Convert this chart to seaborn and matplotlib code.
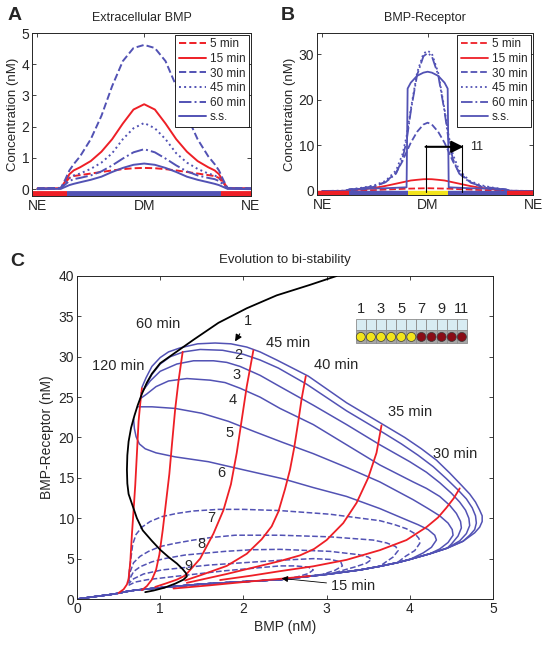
import matplotlib
matplotlib.use("Agg")
import matplotlib.pyplot as plt
from matplotlib.patches import Rectangle
import seaborn as sns

sns.set_style("ticks")
plt.rcParams["font.family"] = ["Liberation Sans", "DejaVu Sans"]

BLUE = "#5252b4"
RED = "#ee1f26"
YELLOW = "#f2e41c"

# ---------------- panel A : extracellular BMP profile
xA = [0.0, 0.11, 0.13, 0.15, 0.17, 0.20, 0.25, 0.30, 0.35, 0.40, 0.45, 0.50,
      0.55, 0.60, 0.65, 0.70, 0.75, 0.80, 0.83, 0.85, 0.87, 0.89, 1.0]
a_5 = [0.02, 0.03, 0.20, 0.36, 0.42, 0.45, 0.50, 0.55, 0.60, 0.64, 0.67, 0.68,
       0.67, 0.64, 0.60, 0.55, 0.50, 0.45, 0.42, 0.36, 0.20, 0.03, 0.02]
a_15 = [0.02, 0.03, 0.25, 0.48, 0.60, 0.70, 0.90, 1.20, 1.60, 2.10, 2.55, 2.72,
        2.55, 2.10, 1.60, 1.20, 0.90, 0.70, 0.60, 0.48, 0.25, 0.03, 0.02]
a_30 = [0.03, 0.04, 0.30, 0.60, 0.80, 1.05, 1.60, 2.35, 3.30, 4.10, 4.52, 4.62,
        4.52, 4.10, 3.30, 2.35, 1.60, 1.05, 0.80, 0.60, 0.30, 0.04, 0.03]
a_45 = [0.02, 0.03, 0.20, 0.36, 0.44, 0.50, 0.65, 0.85, 1.15, 1.60, 1.95, 2.12,
        1.95, 1.60, 1.15, 0.85, 0.65, 0.50, 0.44, 0.36, 0.20, 0.03, 0.02]
a_60 = [0.02, 0.03, 0.15, 0.26, 0.32, 0.36, 0.44, 0.57, 0.76, 0.98, 1.18, 1.28,
        1.18, 0.98, 0.76, 0.57, 0.44, 0.36, 0.32, 0.26, 0.15, 0.03, 0.02]
a_ss = [0.00, 0.01, 0.07, 0.13, 0.17, 0.22, 0.30, 0.40, 0.55, 0.68, 0.78, 0.82,
        0.78, 0.68, 0.55, 0.40, 0.30, 0.22, 0.17, 0.13, 0.07, 0.01, 0.00]

# ---------------- panel B : BMP-receptor profile
xB = [0.0, 0.11, 0.13, 0.20, 0.25, 0.30, 0.35, 0.38, 0.40, 0.42, 0.45, 0.48, 0.50,
      0.52, 0.55, 0.58, 0.60, 0.62, 0.65, 0.70, 0.75, 0.80, 0.87, 0.89, 1.0]
b_5 = [0.0, 0.0, 0.05, 0.15, 0.2, 0.3, 0.4, 0.45, 0.5, 0.52, 0.55, 0.58, 0.6,
       0.58, 0.55, 0.52, 0.5, 0.45, 0.4, 0.3, 0.2, 0.15, 0.05, 0.0, 0.0]
b_15 = [0.0, 0.02, 0.1, 0.4, 0.7, 1.1, 1.6, 1.9, 2.1, 2.3, 2.45, 2.58, 2.6,
        2.58, 2.45, 2.3, 2.1, 1.9, 1.6, 1.1, 0.7, 0.4, 0.1, 0.02, 0.0]
b_30 = [0.0, 0.02, 0.15, 0.4, 1.0, 2.0, 4.0, 6.5, 8.6, 10.6, 13.0, 14.6, 15.0,
        14.6, 13.0, 10.6, 8.6, 6.5, 4.0, 2.0, 1.0, 0.4, 0.15, 0.02, 0.0]
b_45 = [0.0, 0.05, 0.3, 0.8, 1.3, 2.2, 4.5, 8.0, 12.0, 18.0, 26.0, 30.2, 30.8,
        30.2, 26.0, 18.0, 12.0, 8.0, 4.5, 2.2, 1.3, 0.8, 0.3, 0.05, 0.0]
b_60 = [0.0, 0.05, 0.3, 0.7, 1.1, 1.9, 3.8, 7.0, 11.0, 17.5, 25.5, 29.6, 30.3,
        29.6, 25.5, 17.5, 11.0, 7.0, 3.8, 1.9, 1.1, 0.7, 0.3, 0.05, 0.0]
xBss = [0.0, 0.11, 0.13, 0.20, 0.30, 0.40, 0.405, 0.42, 0.45, 0.48, 0.50, 0.52,
        0.55, 0.58, 0.595, 0.60, 0.70, 0.80, 0.87, 0.89, 1.0]
b_ss = [0.0, 0.0, 0.4, 0.5, 0.6, 0.8, 22.5, 23.8, 25.3, 26.0, 26.2, 26.0,
        25.3, 23.8, 22.5, 0.8, 0.6, 0.5, 0.4, 0.0, 0.0]

# tissue bars under the profiles (start, end, colour)
barA = [(-0.025, 0.14, RED), (0.14, 0.86, BLUE), (0.86, 1.0, RED)]
barB = [(-0.025, 0.125, RED), (0.125, 0.405, BLUE), (0.405, 0.595, YELLOW),
        (0.595, 0.875, BLUE), (0.875, 1.0, RED)]

# ---------------- panel C : phase plane trajectories
# common outgoing (lower) branch
lo_x = [0.0, 0.2, 0.4, 0.5, 0.58, 0.7, 1.0, 1.5, 2.0, 2.44, 3.04, 3.4, 3.64, 3.85,
        4.0, 4.24, 4.45, 4.64, 4.78]
lo_y = [0.0, 0.28, 0.55, 0.72, 0.9, 1.1, 1.4, 1.85, 2.15, 2.4, 3.1, 3.6, 4.05, 4.5,
        4.9, 5.6, 6.3, 7.15, 8.2]

# returning part of each cell trajectory (cells 1-6 solid, 7-11 dashed)
c1_x = [4.84, 4.87, 4.87, 4.84, 4.79, 4.72, 4.62, 4.48, 4.32, 4.14, 3.94, 3.68, 3.24,
        2.78, 2.40, 2.20, 2.04, 1.85, 1.66, 1.45, 1.24, 1.10, 1.00, 0.90, 0.83, 0.78]
c1_y = [8.9, 9.6, 10.3, 11.0, 12.0, 13.0, 14.1, 15.6, 17.2, 18.6, 20.0, 21.6, 24.3,
        27.6, 29.6, 30.6, 31.2, 31.6, 31.7, 31.6, 31.1, 30.6, 29.9, 28.8, 27.4, 26.2]
c2_x = [4.72, 4.78, 4.80, 4.79, 4.75, 4.68, 4.58, 4.44, 4.28, 4.10, 3.90, 3.68, 3.24,
        2.76, 2.42, 2.20, 2.00, 1.75, 1.48, 1.28, 1.12, 1.00, 0.90, 0.80]
c2_y = [7.9, 8.6, 9.4, 10.3, 11.3, 12.4, 13.5, 14.9, 16.4, 17.8, 19.2, 20.6, 23.3,
        26.6, 28.6, 29.6, 30.3, 30.8, 30.9, 30.6, 30.0, 29.1, 27.8, 25.9]
c3_x = [4.60, 4.68, 4.72, 4.71, 4.67, 4.60, 4.50, 4.36, 4.20, 4.00, 3.64, 3.24, 2.84,
        2.44, 2.20, 1.96, 1.80, 1.64, 1.40, 1.20, 1.00, 0.88, 0.77]
c3_y = [7.2, 8.1, 9.1, 10.0, 11.0, 12.0, 13.1, 14.4, 15.7, 17.0, 19.1, 21.6, 24.0,
        26.3, 27.7, 28.8, 29.3, 29.5, 29.5, 29.1, 28.2, 27.0, 25.5]
c4_x = [4.50, 4.58, 4.62, 4.61, 4.56, 4.48, 4.36, 4.20, 4.04, 3.64, 3.24, 2.84, 2.44,
        2.20, 1.96, 1.78, 1.60, 1.32, 1.10, 0.95, 0.84, 0.76]
c4_y = [6.8, 7.8, 8.8, 9.6, 10.6, 11.6, 12.7, 13.7, 14.5, 16.6, 19.1, 21.6, 23.6,
        25.0, 26.1, 26.8, 27.1, 27.3, 27.0, 26.3, 25.4, 24.8]
c5_x = [4.36, 4.46, 4.52, 4.51, 4.46, 4.36, 4.22, 4.04, 3.64, 3.24, 2.84, 2.47, 2.14,
        1.82, 1.50, 1.18, 0.90, 0.74]
c5_y = [6.2, 7.0, 7.9, 8.6, 9.4, 10.3, 11.2, 12.3, 14.5, 16.3, 18.0, 19.4, 20.7,
        22.0, 23.0, 23.6, 23.8, 23.8]
c6_x = [4.16, 4.26, 4.32, 4.30, 4.22, 4.10, 3.96, 3.64, 3.24, 2.84, 2.47, 2.00, 1.58,
        1.18, 0.95, 0.82, 0.75, 0.71, 0.69, 0.68]
c6_y = [5.7, 6.4, 7.3, 7.9, 8.6, 9.2, 9.8, 11.2, 12.7, 13.8, 14.9, 16.0, 17.0,
        17.6, 18.1, 18.6, 19.2, 20.1, 21.1, 22.3]
c7_x = [3.95, 4.06, 4.12, 4.11, 4.06, 3.96, 3.82, 3.64, 3.04, 2.44, 2.00, 1.70, 1.40,
        1.20, 1.02, 0.88, 0.78, 0.71, 0.67, 0.65, 0.63, 0.62]
c7_y = [5.3, 6.0, 6.9, 7.5, 8.1, 8.7, 9.2, 9.7, 10.5, 10.95, 11.1, 11.1, 10.9,
        10.6, 10.2, 9.6, 8.9, 8.0, 6.8, 5.2, 3.6, 2.4]
c8_x = [3.70, 3.80, 3.86, 3.83, 3.72, 3.56, 3.04, 2.44, 1.90, 1.60, 1.40, 1.18, 1.00,
        0.86, 0.76, 0.68, 0.64, 0.62]
c8_y = [4.5, 5.2, 6.0, 6.5, 6.95, 7.3, 7.7, 7.9, 7.9, 7.6, 7.3, 6.9, 6.5,
        5.9, 5.3, 4.5, 3.4, 2.2]
c9_x = [3.35, 3.48, 3.54, 3.50, 3.38, 3.04, 2.44, 2.10, 1.78, 1.30, 1.05, 0.90, 0.76,
        0.68, 0.64, 0.62]
c9_y = [4.0, 4.45, 4.9, 5.2, 5.5, 5.9, 6.15, 6.1, 5.9, 5.45, 5.0, 4.6, 4.0,
        3.4, 2.6, 2.0]
c10_x = [2.95, 3.10, 3.19, 3.17, 3.05, 2.84, 2.44, 1.58, 1.02, 0.80, 0.68, 0.62]
c10_y = [3.05, 3.55, 4.1, 4.6, 4.9, 5.0, 4.8, 4.2, 3.6, 3.1, 2.5, 1.9]
c11_x = [2.65, 2.78, 2.84, 2.78, 2.62, 2.44, 1.78, 1.18, 0.85, 0.70, 0.62]
c11_y = [2.75, 3.15, 3.6, 3.95, 4.1, 4.1, 3.5, 2.8, 2.4, 2.1, 1.7]

# isochrones (red)
iso15_x = [1.16, 1.60, 2.00, 2.44, 2.80]
iso15_y = [1.3, 1.7, 2.1, 2.5, 2.85]
iso30_x = [1.72, 2.10, 2.44, 2.84, 3.24, 3.64, 3.96, 4.20, 4.34, 4.44, 4.53, 4.60]
iso30_y = [2.35, 2.9, 3.45, 4.05, 4.85, 6.05, 7.3, 8.9, 10.1, 11.3, 12.5, 13.7]
iso35_x = [1.32, 1.80, 2.20, 2.44, 2.68, 2.85, 3.00, 3.20, 3.36, 3.50, 3.60, 3.66]
iso35_y = [2.0, 3.1, 4.1, 4.7, 5.4, 6.2, 7.3, 9.4, 11.9, 15.0, 18.1, 21.5]
iso40_x = [1.30, 1.50, 1.80, 2.04, 2.22, 2.34, 2.42, 2.50, 2.56, 2.61, 2.66, 2.70, 2.75]
iso40_y = [2.3, 3.0, 4.1, 5.6, 7.4, 9.0, 10.8, 13.6, 16.0, 18.7, 22.0, 24.8, 27.6]
iso45_x = [0.94, 1.06, 1.20, 1.30, 1.48, 1.64, 1.76, 1.85, 1.92, 1.98, 2.04, 2.12]
iso45_y = [1.5, 1.9, 2.4, 2.9, 5.0, 8.1, 11.0, 14.2, 18.1, 22.2, 26.3, 30.8]
iso60_x = [0.78, 0.84, 0.90, 0.95, 0.99, 1.03, 1.07, 1.11, 1.14, 1.18, 1.22, 1.27]
iso60_y = [1.1, 1.6, 2.4, 3.6, 5.5, 8.5, 12.0, 15.5, 19.0, 23.5, 27.0, 30.6]
iso120_x = [0.50, 0.56, 0.60, 0.62, 0.64, 0.66, 0.68, 0.70, 0.72, 0.74, 0.76, 0.78]
iso120_y = [0.75, 1.2, 1.8, 2.5, 4.5, 8.0, 11.0, 14.1, 18.0, 22.0, 24.2, 26.1]

# nullcline (black)
nc_x = [3.12, 2.80, 2.40, 2.04, 1.70, 1.40, 1.18, 1.00, 0.90, 0.84, 0.78, 0.73, 0.69,
        0.65, 0.62, 0.605, 0.60, 0.605, 0.62, 0.66, 0.72, 0.79, 0.90, 1.00, 1.10,
        1.20, 1.27, 1.31, 1.32, 1.28, 1.18, 1.05, 0.92, 0.82]
nc_y = [40.0, 38.9, 37.6, 36.0, 34.2, 32.1, 30.5, 29.2, 27.9, 26.8, 25.4, 24.0, 22.7,
        21.2, 19.5, 17.8, 16.0, 14.3, 13.0, 11.8, 10.0, 8.5, 7.2, 6.1, 5.2,
        4.4, 3.7, 3.2, 2.8, 2.4, 1.9, 1.4, 1.05, 0.85]

cell_numbers = ["1", "3", "5", "7", "9", "11"]
cell_fate = [YELLOW] * 6 + ["#8a0c16"] * 5

fig = plt.figure(figsize=(5.52, 6.48), dpi=100)
axA = fig.add_axes([0.058, 0.6975, 0.3967, 0.2515])
axB = fig.add_axes([0.5743, 0.699, 0.3913, 0.25])
axC = fig.add_axes([0.1395, 0.0756, 0.7536, 0.4985])


def curve(ax, x, y, **kw):
    sns.lineplot(x=x, y=y, ax=ax, sort=False, estimator=None, **kw)


def style(ax):
    for s in ax.spines.values():
        s.set_linewidth(0.7)
    ax.tick_params(direction="in", top=True, right=True, length=3, width=0.6,
                   labelsize=10, pad=2)


# ---- A
curve(axA, xA, a_5, color=RED, lw=1.4, linestyle="--", label="5 min")
curve(axA, xA, a_15, color=RED, lw=1.4, label="15 min")
curve(axA, xA, a_30, color=BLUE, lw=1.4, linestyle="--", label="30 min")
curve(axA, xA, a_45, color=BLUE, lw=1.4, linestyle=":", label="45 min")
curve(axA, xA, a_60, color=BLUE, lw=1.4, linestyle="-.", label="60 min")
curve(axA, xA, a_ss, color=BLUE, lw=1.4, label="s.s.")
for x0, x1, c in barA:
    axA.plot([x0, x1], [-0.14, -0.14], color=c, lw=4.2, solid_capstyle="butt")
axA.set_xlim(-0.025, 1.0)
axA.set_ylim(-0.22, 5)
axA.set_yticks([0, 1, 2, 3, 4, 5])
axA.set_xticks([0, 0.5, 1])
axA.set_xticklabels(["NE", "DM", "NE"])
axA.set_ylabel("Concentration (nM)", fontsize=9.5, labelpad=2)
axA.set_title("Extracellular BMP", fontsize=9, pad=9)

# ---- B
curve(axB, xB, b_5, color=RED, lw=1.3, linestyle="--", label="5 min")
curve(axB, xB, b_15, color=RED, lw=1.3, label="15 min")
curve(axB, xB, b_30, color=BLUE, lw=1.3, linestyle="--", label="30 min")
curve(axB, xB, b_45, color=BLUE, lw=1.3, linestyle=":", label="45 min")
curve(axB, xB, b_60, color=BLUE, lw=1.3, linestyle="-.", label="60 min")
curve(axB, xBss, b_ss, color=BLUE, lw=1.3, label="s.s.")
for x0, x1, c in barB:
    axB.plot([x0, x1], [-0.45, -0.45], color=c, lw=3.2, solid_capstyle="butt")
axB.plot([0.49, 0.49], [-0.3, 10.0], color="k", lw=0.8)
axB.plot([0.665, 0.665], [-0.3, 10.0], color="k", lw=0.8)
axB.annotate("", xy=(0.67, 9.7), xytext=(0.49, 9.7),
             arrowprops=dict(arrowstyle="-|>", color="k", lw=1.5, mutation_scale=18,
                             shrinkA=0, shrinkB=0))
axB.text(0.70, 9.7, "11", fontsize=9, va="center", ha="left")
axB.set_xlim(-0.025, 1.0)
axB.set_ylim(-0.9, 34.7)
axB.set_yticks([0, 10, 20, 30])
axB.set_xticks([0, 0.5, 1])
axB.set_xticklabels(["NE", "DM", "NE"])
axB.set_ylabel("Concentration (nM)", fontsize=9.5, labelpad=2)
axB.set_title("BMP-Receptor", fontsize=9, pad=9)

for ax in (axA, axB):
    style(ax)
    leg = ax.legend(loc="upper right", fontsize=8.5, handlelength=2.3, handletextpad=0.35,
                    labelspacing=0.22, borderpad=0.3, borderaxespad=0.15,
                    fancybox=False, framealpha=1, edgecolor="k")
    leg.get_frame().set_linewidth(0.6)

# ---- C
trajs = [(c1_x, c1_y, "-"), (c2_x, c2_y, "-"), (c3_x, c3_y, "-"), (c4_x, c4_y, "-"),
         (c5_x, c5_y, "-"), (c6_x, c6_y, "-"), (c7_x, c7_y, "--"), (c8_x, c8_y, "--"),
         (c9_x, c9_y, "--"), (c10_x, c10_y, "--"), (c11_x, c11_y, "--")]
for cx, cy, ls in trajs:
    keep = [i for i, v in enumerate(lo_x) if v < cx[0]]
    xs = [lo_x[i] for i in keep] + cx
    ys = [lo_y[i] for i in keep] + cy
    curve(axC, xs, ys, color=BLUE, lw=1.1, linestyle=ls, zorder=2)

for ix, iy in [(iso15_x, iso15_y), (iso30_x, iso30_y), (iso35_x, iso35_y),
               (iso40_x, iso40_y), (iso45_x, iso45_y), (iso60_x, iso60_y),
               (iso120_x, iso120_y)]:
    curve(axC, ix, iy, color=RED, lw=1.3, zorder=3)
curve(axC, nc_x, nc_y, color="k", lw=1.3, zorder=4)

txt = dict(fontsize=10.5, ha="center", va="center")
axC.text(0.97, 34.0, "60 min", **txt)
axC.text(0.49, 28.9, "120 min", **txt)
axC.text(2.54, 31.7, "45 min", **txt)
axC.text(3.12, 29.0, "40 min", **txt)
axC.text(4.00, 23.1, "35 min", **txt)
axC.text(4.55, 18.0, "30 min", **txt)
axC.annotate("15 min", xy=(2.46, 2.55), xytext=(3.32, 1.66), fontsize=10.5,
             ha="center", va="center",
             arrowprops=dict(arrowstyle="-|>", color="k", lw=0.6, mutation_scale=9,
                             shrinkA=1, shrinkB=0))
axC.annotate("1", xy=(1.90, 31.9), xytext=(2.05, 34.4), fontsize=10.5,
             ha="center", va="center",
             arrowprops=dict(arrowstyle="-|>", color="k", lw=0.8, mutation_scale=10,
                             shrinkA=2, shrinkB=0))
for lab, (tx, ty) in zip(["2", "3", "4", "5", "6", "7", "8", "9"],
                         [(1.94, 30.2), (1.92, 27.8), (1.87, 24.7), (1.83, 20.6),
                          (1.74, 15.6), (1.62, 10.0), (1.50, 6.8), (1.34, 4.1)]):
    axC.text(tx, ty, lab, **txt)

# cell strip inset
cw, cx0 = 0.1215, 3.35
for i, fc in enumerate(cell_fate):
    axC.add_patch(Rectangle((cx0 + i * cw, 33.33), cw, 1.33, facecolor="#d8ecf3",
                            edgecolor="#8c8c8c", lw=0.6, zorder=5))
    axC.add_patch(Rectangle((cx0 + i * cw, 31.76), cw, 1.57, facecolor="#a6a6a6",
                            edgecolor="#8c8c8c", lw=0.6, zorder=5))
sns.scatterplot(x=[cx0 + (i + 0.5) * cw for i in range(len(cell_fate))],
                y=[32.45] * len(cell_fate), c=cell_fate, s=42, edgecolor="#3a3a3a",
                linewidth=0.5, ax=axC, zorder=6)
for k, lab in enumerate(cell_numbers):
    axC.text(cx0 + (2 * k + 0.5) * cw, 35.9, lab, **txt)

axC.set_xlim(0, 5)
axC.set_ylim(0, 40)
axC.set_xticks([0, 1, 2, 3, 4, 5])
axC.set_yticks(range(0, 41, 5))
axC.set_xlabel("BMP (nM)", fontsize=10, labelpad=3)
axC.set_ylabel("BMP-Receptor (nM)", fontsize=10, labelpad=3)
axC.set_title("Evolution to bi-stability", fontsize=9.5, pad=9)
style(axC)

fig.text(15 / 552, 1 - 15 / 648, "A", fontsize=14, weight="bold", ha="center", va="center")
fig.text(288 / 552, 1 - 15 / 648, "B", fontsize=14, weight="bold", ha="center", va="center")
fig.text(17 / 552, 1 - 262 / 648, "C", fontsize=14, weight="bold", ha="center", va="center")

fig.savefig("out.png", dpi=100)
